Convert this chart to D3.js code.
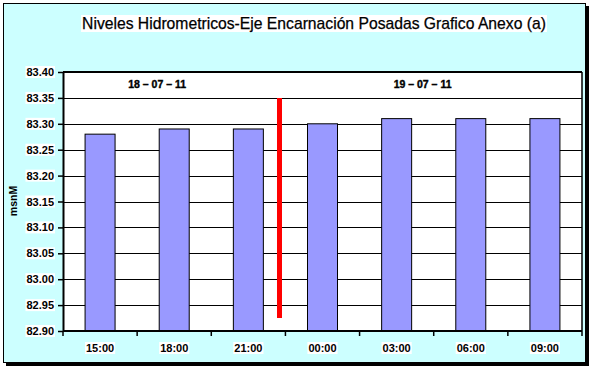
<!DOCTYPE html>
<html>
<head>
<meta charset="utf-8">
<script src="https://cdn.jsdelivr.net/npm/d3@7"></script>
<style>
  body { margin: 0; background: #fff; }
  svg { display: block; }
</style>
</head>
<body>
<div id="chart"></div>
<script>
// data
const categories = ["15:00", "18:00", "21:00", "00:00", "03:00", "06:00", "09:00"];
const niveles = [83.28, 83.29, 83.29, 83.30, 83.31, 83.31, 83.31];
const yTicks = [82.90, 82.95, 83.00, 83.05, 83.10, 83.15, 83.20, 83.25, 83.30, 83.35, 83.40];
const dayLabels = ["18 \u2013 07 \u2013 11", "19 \u2013 07 \u2013 11"];
const dayLabelAt = [0.77, 4.35];          // in category units
const dayDivider = { at: 2.92, from: 82.925, to: 83.35 };

const W = 595, H = 370;
var margin = { top: 72, right: 13, bottom: 39, left: 63 },
  width = W - margin.left - margin.right,
  height = H - margin.top - margin.bottom;

const svg = d3.select("#chart").append("svg")
  .attr("width", W)
  .attr("height", H);

// outer frame with shadow
svg.append("rect")
  .attr("x", 6).attr("y", 6)
  .attr("width", 583).attr("height", 360)
  .attr("fill", "#000");
svg.append("rect")
  .attr("x", 3.5).attr("y", 3.5)
  .attr("width", 582).attr("height", 359)
  .attr("fill", "#ccffff")
  .attr("stroke", "#000")
  .attr("stroke-width", 1);

// white box behind a text node
function boxed(t, pad) {
  const b = t.node().getBBox();
  d3.select(t.node().parentNode).insert("rect", () => t.node())
    .attr("x", b.x - pad).attr("y", b.y)
    .attr("width", b.width + 2 * pad).attr("height", b.height)
    .attr("fill", "#fff");
}

const title = svg.append("text")
  .attr("x", 314)
  .attr("y", 29)
  .attr("text-anchor", "middle")
  .style("font-family", "Liberation Sans, Arial, sans-serif")
  .style("font-size", "15.7px")
  .style("stroke", "#000")
  .style("stroke-width", "0.25px")
  .text("Niveles Hidrometricos-Eje Encarnaci\u00f3n Posadas Grafico Anexo (a)");
boxed(title, 1);

const g = svg.append("g")
  .attr("transform", "translate(" + margin.left + "," + margin.top + ")");

const x = d3.scaleBand()
  .domain(categories)
  .range([0, width]);
const slot = x.step();
const catX = i => (i + 0.5) * slot;

const y = d3.scaleLinear()
  .domain([82.90, 83.40])
  .range([height, 0]);

g.append("rect")
  .attr("width", width).attr("height", height)
  .attr("fill", "#fff");

// gridlines
g.selectAll("line.grid")
  .data(yTicks.slice(1, -1))
  .enter().append("line")
  .attr("class", "grid")
  .attr("x1", 0).attr("x2", width)
  .attr("y1", d => Math.round(y(d)) + 0.5)
  .attr("y2", d => Math.round(y(d)) + 0.5)
  .attr("stroke", "#000")
  .attr("stroke-width", 1);

// bars, centred in equal slots
const bw = 30;
g.selectAll("rect.bar")
  .data(niveles)
  .enter().append("rect")
  .attr("class", "bar")
  .attr("x", (d, i) => x(categories[i]) + slot / 2 - bw / 2)
  .attr("y", d => y(d))
  .attr("width", bw)
  .attr("height", d => height - y(d))
  .attr("fill", "#9999ff")
  .attr("stroke", "#000")
  .attr("stroke-width", 1);

// plot border
g.append("line").attr("x1", 0).attr("x2", width).attr("y1", 0).attr("y2", 0)
  .attr("stroke", "#000").attr("stroke-width", 2);
g.append("line").attr("x1", width).attr("x2", width).attr("y1", 0).attr("y2", height)
  .attr("stroke", "#000").attr("stroke-width", 1.5);

// red divider between days
g.append("line")
  .attr("x1", dayDivider.at * slot)
  .attr("x2", dayDivider.at * slot)
  .attr("y1", y(dayDivider.to))
  .attr("y2", y(dayDivider.from))
  .attr("stroke", "#ff0000")
  .attr("stroke-width", 5);

// day labels
g.selectAll("text.day")
  .data(dayLabels)
  .enter().append("text")
  .attr("class", "day")
  .attr("x", (d, i) => catX(dayLabelAt[i]))
  .attr("y", 16)
  .attr("text-anchor", "middle")
  .style("font-family", "Liberation Sans, Arial, sans-serif")
  .style("font-weight", "900")
  .style("font-size", "10.5px")
  .style("stroke", "#000")
  .style("stroke-width", "0.4px")
  .text(d => d);

// y axis
const yAxis = g.append("g")
  .call(d3.axisLeft(y).tickValues(yTicks).tickFormat(d3.format(".2f")).tickSize(5).tickSizeOuter(0));
yAxis.select(".domain").attr("stroke", "#000").attr("stroke-width", 2);
yAxis.selectAll("line").attr("stroke-width", 1.5);
yAxis.selectAll("text")
  .attr("x", -9)
  .style("font-family", "Liberation Sans, Arial, sans-serif")
  .style("font-weight", "bold")
  .style("font-size", "11px")
  .attr("fill", "#000")
  .each(function () { boxed(d3.select(this), 1); });

// x axis: ticks at slot boundaries
const bounds = d3.range(categories.length + 1);
const xAxis = g.append("g").attr("transform", "translate(0," + height + ")");
xAxis.append("line").attr("x1", 0).attr("x2", width)
  .attr("stroke", "#000").attr("stroke-width", 2);
xAxis.selectAll("line.tick")
  .data(bounds)
  .enter().append("line")
  .attr("class", "tick")
  .attr("x1", d => d * slot)
  .attr("x2", d => d * slot)
  .attr("y1", 0).attr("y2", 5)
  .attr("stroke", "#000").attr("stroke-width", 1.5);
xAxis.selectAll("text")
  .data(categories)
  .enter().append("text")
  .attr("x", d => x(d) + slot / 2)
  .attr("y", 21)
  .attr("text-anchor", "middle")
  .style("font-family", "Liberation Sans, Arial, sans-serif")
  .style("font-weight", "bold")
  .style("font-size", "11px")
  .text(d => d)
  .each(function () { boxed(d3.select(this), 1); });

// y axis title
const yt = svg.append("text")
  .attr("transform", "translate(17,201) rotate(-90)")
  .attr("text-anchor", "middle")
  .style("font-family", "Liberation Sans, Arial, sans-serif")
  .style("font-weight", "bold")
  .style("font-size", "10.5px")
  .text("msnM");
boxed(yt, 1);
</script>
</body>
</html>
